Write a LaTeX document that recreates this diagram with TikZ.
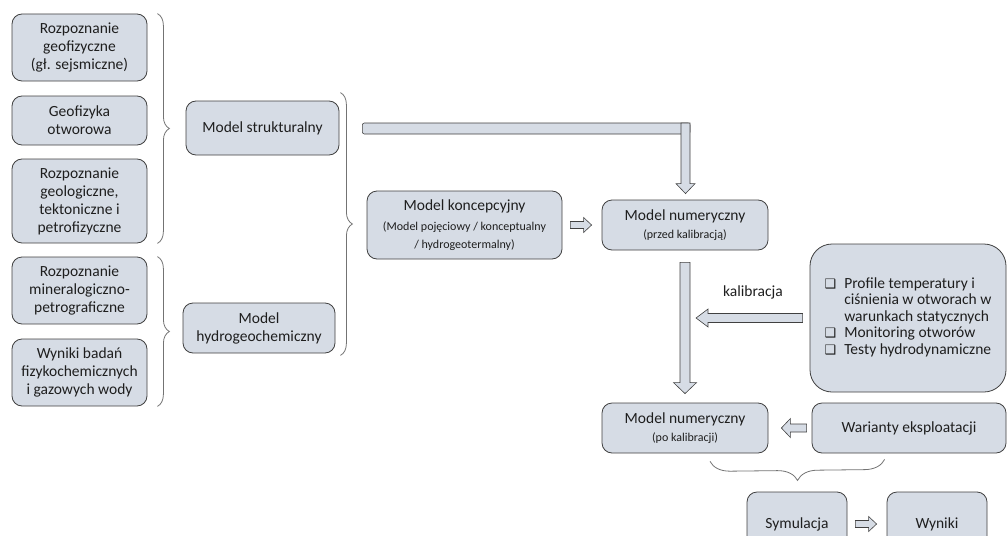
\documentclass[tikz,border=0pt]{standalone}
\usepackage{fontspec}
\setmainfont{Carlito}
\newfontfamily\symfont{DejaVu Sans}
\usetikzlibrary{calc,decorations.pathreplacing}
\definecolor{wypel}{RGB}{214,220,229}
\definecolor{ramka}{RGB}{64,64,64}
\definecolor{tekst}{RGB}{30,30,30}
\newcommand{\mal}{\fontsize{12}{15}\selectfont}
\newcommand{\kwadr}{{\symfont\fontsize{13}{13}\selectfont ❑}}
\tikzset{
	blok/.style={draw=ramka,fill=wypel,line width=0.8pt,rounded corners=10pt,align=center,
		text=tekst,font=\fontsize{15.5}{18}\selectfont,inner sep=2pt},
	lewy/.style={blok,minimum width=135pt},
	klamra/.style={draw=black!55,line width=0.8pt,decorate,decoration={brace,amplitude=#1}},
	strzalka/.style n args={3}{draw=ramka,fill=wypel,line width=0.6pt,
		to path={let \p1=(\tikztostart),\p2=(\tikztotarget),
			\n1={atan2(\y2-\y1,\x2-\x1)},\n2={veclen(\x2-\x1,\y2-\y1)} in
			($(\p1)+(\n1+90:#1)$) -- ++(\n1:{\n2-#3}) -- ++(\n1+90:{#2-#1}) -- (\p2)
			-- ($(\p2)+(\n1+180:#3)+(\n1-90:#2)$) -- ++(\n1+90:{#2-#1})
			-- ($(\p1)+(\n1-90:#1)$) -- cycle}}
}
\begin{document}
\begin{tikzpicture}[x=1pt,y=-1pt]
		\useasboundingbox (0,0) rectangle (1008,535);
		% dane wejsciowe
		\node[lewy,minimum height=67pt] (geof) at (79.5,47.5) {Rozpoznanie\\geofizyczne\\(gł. sejsmiczne)};
		\node[lewy,minimum height=49pt] (otw) at (79.5,120.5) {Geofizyka\\otworowa};
		\node[lewy,minimum height=84pt] (geol) at (79.5,201) {Rozpoznanie\\geologiczne,\\tektoniczne i\\petrofizyczne};
		\node[lewy,minimum height=67pt] (miner) at (79.5,290.5) {Rozpoznanie\\mineralogiczno-\\petrograficzne};
		\node[lewy,minimum height=67pt] (wyn5) at (79.5,372.5) {Wyniki badań\\fizykochemicznych\\i gazowych wody};
		% modele
		\node[blok,minimum width=153pt,minimum height=54pt] (mstr) at (262.5,128) {Model strukturalny};
		\node[blok,minimum width=152pt,minimum height=50pt] (mhyd) at (259,328) {Model\\hydrogeochemiczny};
		\node[blok,minimum width=195pt,minimum height=68pt] (mkon) at (464.5,225) {Model koncepcyjny\\[2pt]\mal (Model pojęciowy / konceptualny\\\mal / hydrogeotermalny)};
		\node[blok,minimum width=166pt,minimum height=50pt] (mnum1) at (685,225) {Model numeryczny\\\mal (przed kalibracją)};
		\node[blok,minimum width=166pt,minimum height=50pt] (mnum2) at (685,428) {Model numeryczny\\\mal (po kalibracji)};
		\node[blok,rounded corners=22pt,minimum width=196pt,minimum height=148pt,font=\fontsize{15.5}{16.5}\selectfont] (prof) at (908,318)
			{\begin{tabular}{@{}l@{\hspace{8pt}}l@{}}
				\kwadr & Profile temperatury i\\
				& ciśnienia w otworach w\\
				& warunkach statycznych\\
				\kwadr & Monitoring otworów\\
				\kwadr & Testy hydrodynamiczne
			\end{tabular}};
		\node[blok,minimum width=194pt,minimum height=50pt] (war) at (909,428) {Warianty eksploatacji};
		\node[blok,minimum width=100pt,minimum height=64pt] (sym) at (797,524) {Symulacja};
		\node[blok,minimum width=100pt,minimum height=64pt] (wyn) at (937,524) {Wyniki};
		\node[text=tekst,font=\fontsize{15.5}{18}\selectfont] (kal) at (753,292) {kalibracja};
		% klamry
		\draw[klamra=12pt] ([xshift=10pt]geof.north east) -- ([xshift=10pt]geol.south east);
		\draw[klamra=12pt] ([xshift=10pt]miner.north east) -- ([xshift=10pt]wyn5.south east);
		\draw[klamra=12pt] ($(mstr.north east)+(1,-8)$) -- ($(mstr.east |- mhyd.south)+(1,2)$);
		\draw[klamra=20pt] ($(war.south west)+(73,6)$) -- ($(mnum2.south)+(25,8)$);
		% strzalki
		\coordinate (zag) at (mnum1.north |- mstr.east);
		\draw[draw=ramka,fill=wypel,line width=0.6pt,rounded corners=2pt] ($(mstr.east)+(23,-5)$) rectangle ($(zag)+(5,6)$);
		\draw[strzalka={4.5pt}{9.5pt}{10pt}] ($(zag)+(0.5,-5)$) to ([shift={(0.5,-6)}]mnum1.north);
		\draw[strzalka={3.5pt}{7.5pt}{8pt}] ([xshift=8pt]mkon.east) to ([xshift=-10pt]mnum1.west);
		\draw[strzalka={5pt}{11.5pt}{11pt}] ([yshift=-12pt]mnum1.south) to ([yshift=9pt]mnum2.north);
		\coordinate (kt) at ($(mnum1.south)+(11,0)$);
		\draw[strzalka={4.5pt}{9pt}{12pt}] ([xshift=-7pt]prof.west) to (kt |- prof.west);
		\draw[strzalka={4pt}{9.5pt}{9pt}] ([xshift=-5pt]war.west) to ([xshift=13pt]mnum2.east);
		\draw[strzalka={3.5pt}{7.5pt}{8pt}] ([xshift=8pt]sym.east) to ([xshift=-10pt]wyn.west);
\end{tikzpicture}
\end{document}
